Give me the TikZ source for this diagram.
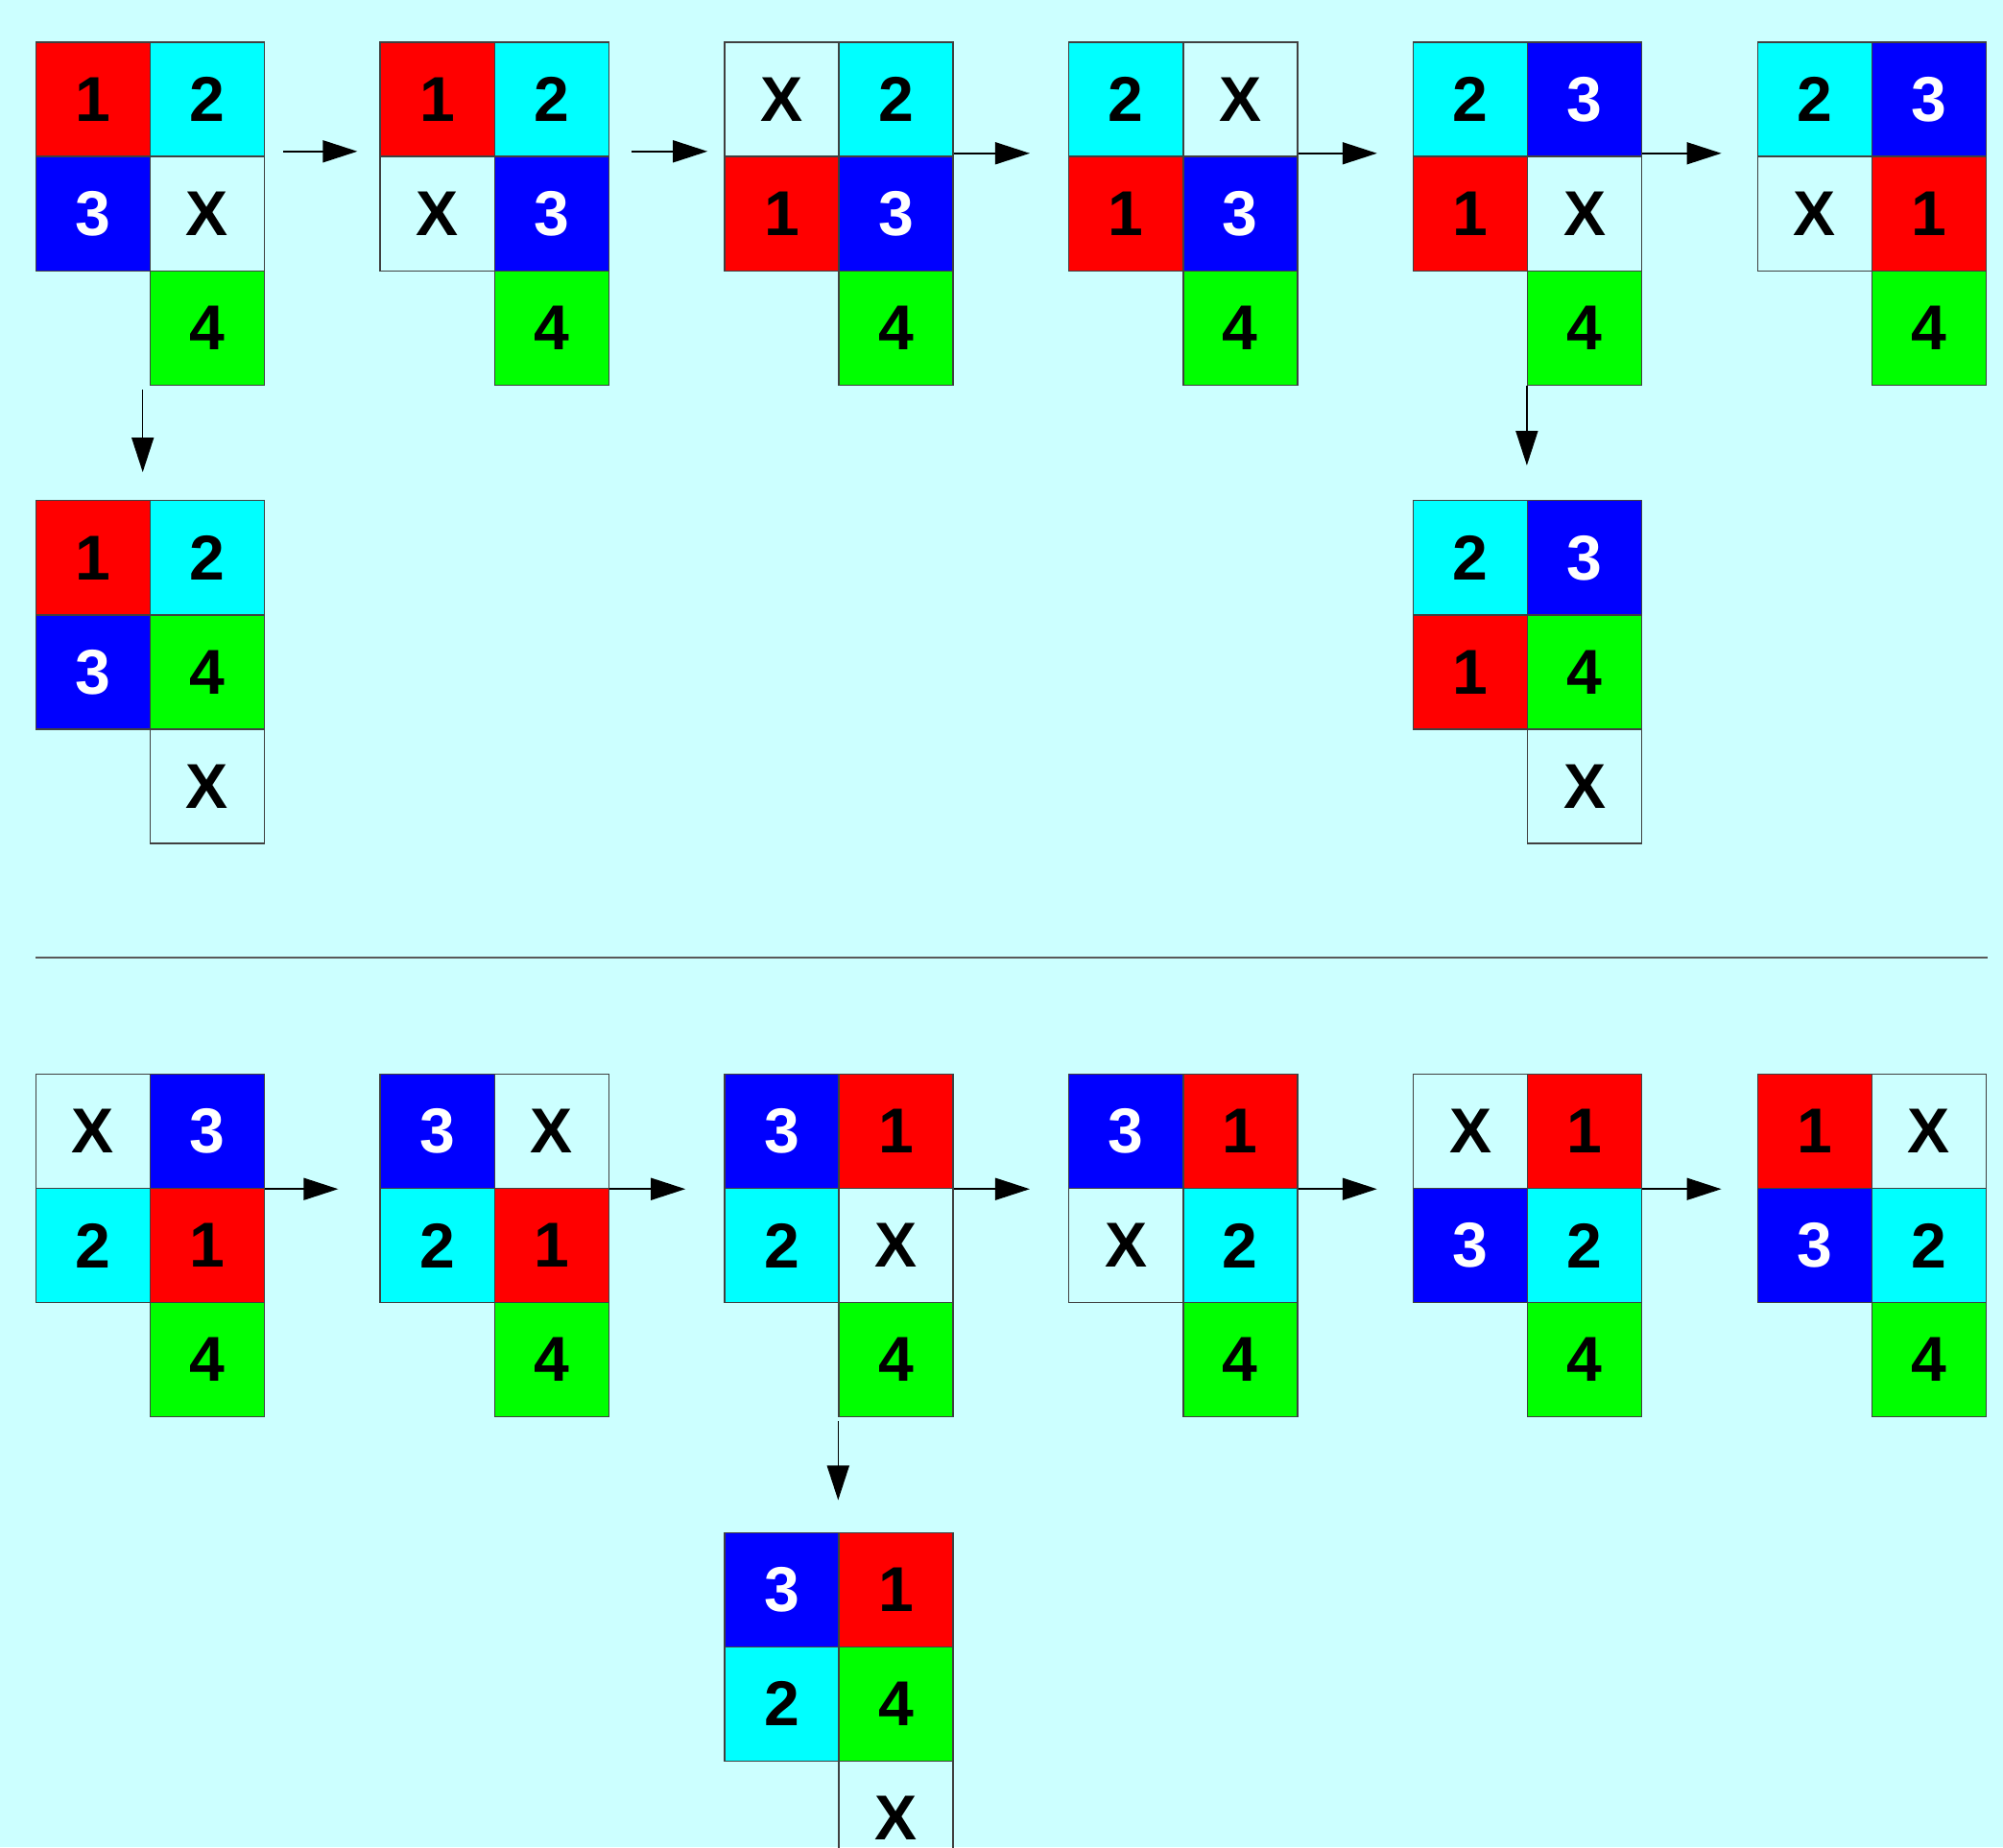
\documentclass[tikz,border=0pt]{standalone}
\usepackage{fontspec}
\setmainfont{Liberation Sans}
\usetikzlibrary{arrows.meta}

\definecolor{bgcyan}{RGB}{204,255,255}
\definecolor{tred}{RGB}{255,0,0}
\definecolor{tcyan}{RGB}{0,255,255}
\definecolor{tblue}{RGB}{0,0,255}
\definecolor{tgreen}{RGB}{0,255,0}

\def\cs{1.191cm}

\tikzset{
  tile/.style={draw=black!75, line width=0.4pt, minimum width=\cs, minimum height=\cs,
    inner sep=0pt, font=\fontsize{18.8}{20}\selectfont\bfseries},
  t1/.style={fill=tred},
  t2/.style={fill=tcyan},
  t3/.style={fill=tblue, text=white},
  t4/.style={fill=tgreen},
  tX/.style={},
  move/.style={-{Triangle[length=3.6mm, width=2.3mm]}, line width=0.45pt, black},
  rule/.style={line width=0.45pt, black!65},
}

% name, top-left corner, then the five tiles
\newcommand{\puzzleboard}[7]{%
  \begin{scope}[shift={(#2)}]
    \node[tile, t#3] (#1-a) at (0.5,-0.5) {#3};
    \node[tile, t#4] (#1-b) at (1.5,-0.5) {#4};
    \node[tile, t#5] (#1-c) at (0.5,-1.5) {#5};
    \node[tile, t#6] (#1-d) at (1.5,-1.5) {#6};
    \node[tile, t#7] (#1-e) at (1.5,-2.5) {#7};
  \end{scope}}

\begin{document}
\begin{tikzpicture}[x=\cs, y=\cs]
\useasboundingbox (0,0) rectangle (17.52,-16.16);
\clip (0,0) rectangle (17.52,-16.16);
\fill[bgcyan] (0,0) rectangle (17.52,-16.16);

\puzzleboard{A1}{0.313,-0.369}{1}{2}{3}{X}{4}
\puzzleboard{A2}{3.325,-0.369}{1}{2}{X}{3}{4}
\puzzleboard{A3}{6.337,-0.369}{X}{2}{1}{3}{4}
\puzzleboard{A4}{9.349,-0.369}{2}{X}{1}{3}{4}
\puzzleboard{A5}{12.361,-0.369}{2}{3}{1}{X}{4}
\puzzleboard{A6}{15.373,-0.369}{2}{3}{X}{1}{4}

\puzzleboard{B1}{0.313,-4.380}{1}{2}{3}{4}{X}
\puzzleboard{B5}{12.361,-4.380}{2}{3}{1}{4}{X}

\coordinate (ruleL) at (0.313,-8.38);
\coordinate (ruleR) at (17.385,-8.38);
\draw[rule] (ruleL) -- (ruleR);

\puzzleboard{C1}{0.313,-9.397}{X}{3}{2}{1}{4}
\puzzleboard{C2}{3.325,-9.397}{3}{X}{2}{1}{4}
\puzzleboard{C3}{6.337,-9.397}{3}{1}{2}{X}{4}
\puzzleboard{C4}{9.349,-9.397}{3}{1}{X}{2}{4}
\puzzleboard{C5}{12.361,-9.397}{X}{1}{3}{2}{4}
\puzzleboard{C6}{15.373,-9.397}{1}{X}{3}{2}{4}

\puzzleboard{D3}{6.337,-13.408}{3}{1}{2}{4}{X}

% top row
\draw[move, shorten <=1.9mm, shorten >=2.3mm] ([yshift=0.6mm]A1-b.south east) -- ([yshift=0.6mm]A2-a.south west);
\draw[move, shorten <=2.3mm, shorten >=1.7mm] ([yshift=0.6mm]A2-b.south east) -- ([yshift=0.6mm]A3-a.south west);
\draw[move, shorten >=4mm] ([yshift=0.4mm]A3-b.south east) -- ([yshift=0.4mm]A4-a.south west);
\draw[move, shorten >=3.7mm] ([yshift=0.4mm]A4-b.south east) -- ([yshift=0.4mm]A5-a.south west);
\draw[move, shorten >=3.7mm] ([yshift=0.4mm]A5-b.south east) -- ([yshift=0.4mm]A6-a.south west);
\draw[move, shorten <=0.4mm, shorten >=2.9mm] ([xshift=-0.7mm]A1-e.south west) -- ([xshift=-0.7mm]B1-b.north west);
\draw[move, shorten >=3.6mm] (A5-e.south west) -- (B5-b.north west);

% bottom row
\draw[move, shorten >=4.3mm] (C1-b.south east) -- (C2-a.south west);
\draw[move, shorten >=4mm] (C2-b.south east) -- (C3-a.south west);
\draw[move, shorten >=4mm] (C3-b.south east) -- (C4-a.south west);
\draw[move, shorten >=3.7mm] (C4-b.south east) -- (C5-a.south west);
\draw[move, shorten >=3.7mm] (C5-b.south east) -- (C6-a.south west);
\draw[move, shorten <=0.4mm, shorten >=3.3mm] (C3-e.south west) -- (D3-b.north west);
\end{tikzpicture}
\end{document}
